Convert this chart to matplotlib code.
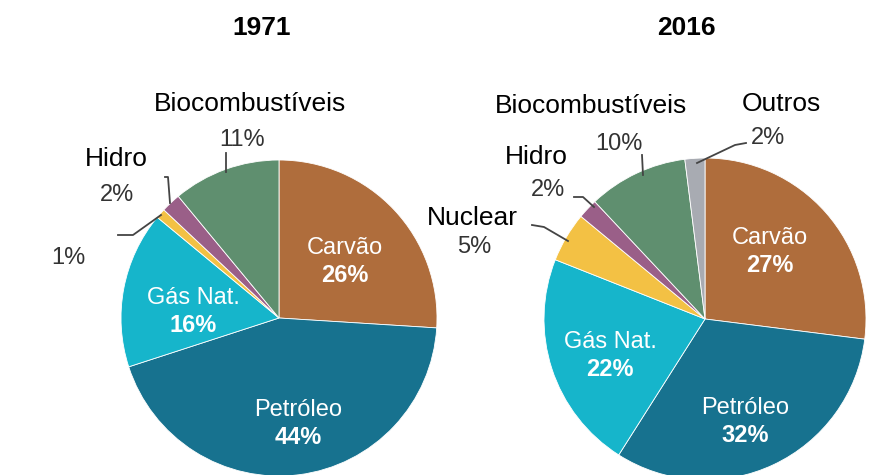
import matplotlib.pyplot as plt

plt.rcParams['font.family'] = ['Liberation Sans', 'DejaVu Sans']

# shares clockwise from 12 o'clock
labels_1971 = ['Carvão', 'Petróleo', 'Gás Nat.', 'Nuclear', 'Hidro', 'Biocombustíveis']
values_1971 = [26, 44, 16, 1, 2, 11]
labels_2016 = ['Carvão', 'Petróleo', 'Gás Nat.', 'Nuclear', 'Hidro', 'Biocombustíveis', 'Outros']
values_2016 = [27, 32, 22, 5, 2, 10, 2]

colors = {'Carvão': '#AF6D3C', 'Petróleo': '#17728F', 'Gás Nat.': '#16B5CB',
          'Nuclear': '#F3C144', 'Hidro': '#9A5F88', 'Biocombustíveis': '#5F8F6F',
          'Outros': '#A8ABB2'}

W, H = 893, 475
fig = plt.figure(figsize=(W / 100, H / 100), dpi=100)
ax = fig.add_axes([0, 0, 1, 1])
ax.axis('off')

def Y(y):
    return H - y

def draw_pie(vals, labs, cx, cy, r):
    ax.pie(vals, colors=[colors[l] for l in labs], center=(cx, Y(cy)), radius=r,
           startangle=90, counterclock=False,
           wedgeprops=dict(edgecolor='white', linewidth=0.6))

draw_pie(values_1971, labels_1971, 279, 318, 158)
draw_pie(values_2016, labels_2016, 705, 319, 161)
ax.set_xlim(0, W)
ax.set_ylim(0, H)
ax.set_aspect('auto')

dark = '#333333'

def inside(x, y, name, pct):
    ax.text(x, Y(y), name, color='white', fontsize=17, ha='center', va='center')
    ax.text(x, Y(y + 28), f'{pct}%', color='white', fontsize=17, fontweight='bold',
            ha='center', va='center')

def outside(x, y, name, pct, px, py):
    ax.text(x, Y(y), name, color='black', fontsize=19, ha='center', va='center')
    ax.text(px, Y(py), f'{pct}%', color=dark, fontsize=17, ha='center', va='center')

def leader(pts):
    ax.plot([p[0] for p in pts], [Y(p[1]) for p in pts], color='#444444', lw=1.3)

# titles
ax.text(262, Y(28), '1971', fontsize=19, fontweight='bold', ha='center', va='center')
ax.text(686, Y(28), '2016', fontsize=19, fontweight='bold', ha='center', va='center')

# 1971
inside(345, 248, 'Carvão', values_1971[0])
inside(193, 298, 'Gás Nat.', values_1971[2])
inside(298, 410, 'Petróleo', values_1971[1])
outside(250, 104, 'Biocombustíveis', values_1971[5], 242, 140)
leader([(226, 153), (226, 172)])
outside(116, 159, 'Hidro', values_1971[4], 117, 195)
leader([(165, 177), (168, 177), (170, 203)])
ax.text(68, Y(258), f'{values_1971[3]}%', color=dark, fontsize=17, ha='center', va='center')
leader([(118, 235), (133, 235), (161, 215)])

# 2016
inside(770, 238, 'Carvão', values_2016[0])
inside(610, 342, 'Gás Nat.', values_2016[2])
inside(745, 408, 'Petróleo', values_2016[1])
outside(591, 106, 'Biocombustíveis', values_2016[5], 619, 144)
leader([(642, 155), (643, 175)])
outside(781, 104, 'Outros', values_2016[6], 768, 138)
leader([(746, 143), (735, 145), (697, 163)])
outside(536, 157, 'Hidro', values_2016[4], 548, 190)
leader([(574, 197), (583, 197), (594, 207)])
outside(472, 218, 'Nuclear', values_2016[3], 474, 247)
leader([(532, 225), (544, 227), (568, 241)])

fig.savefig('out.png', dpi=100)
